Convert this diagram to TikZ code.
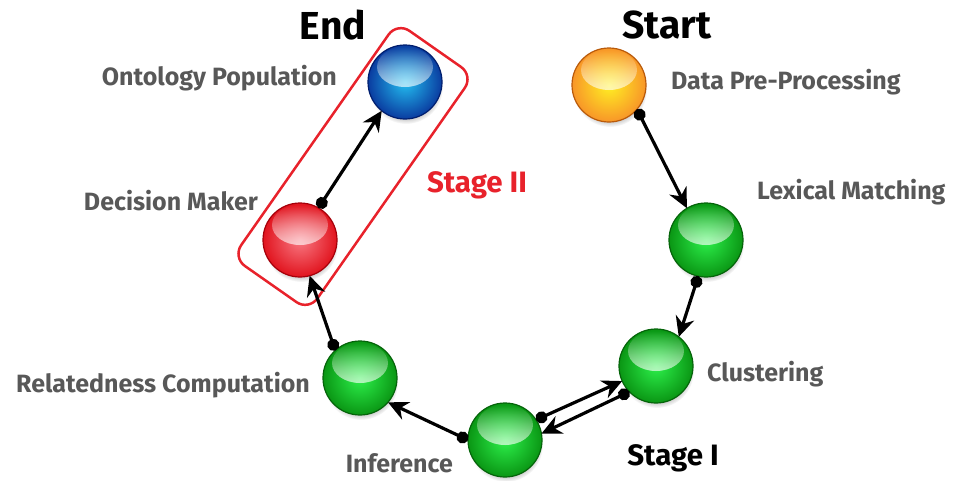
\documentclass[tikz,border=0pt]{standalone}
\usepackage{fontspec}
\setmainfont{Fira Sans}
\usetikzlibrary{arrows.meta,shadows,fadings}

\definecolor{txtgrey}{RGB}{88,88,88}
\definecolor{stagered}{RGB}{232,34,43}
\definecolor{greenin}{RGB}{45,240,75}
\definecolor{greenout}{RGB}{10,150,20}
\definecolor{greenline}{RGB}{5,100,10}
\definecolor{orangein}{RGB}{255,240,35}
\definecolor{orangeout}{RGB}{248,150,40}
\definecolor{orangeline}{RGB}{185,90,10}
\definecolor{bluein}{RGB}{35,190,240}
\definecolor{blueout}{RGB}{10,60,160}
\definecolor{blueline}{RGB}{0,30,110}
\definecolor{redin}{RGB}{248,120,130}
\definecolor{redout}{RGB}{225,20,30}
\definecolor{redline}{RGB}{165,0,10}

\tikzset{
  ball/.style={circle, minimum size=74pt, inner sep=0pt, outer sep=0pt, line width=1.2pt,
    circular drop shadow={shadow xshift=1pt, shadow yshift=-5pt, shadow scale=1.0, opacity=.4}},
  greenball/.style={ball, draw=greenline, inner color=greenin, outer color=greenout},
  balltext/.style={font=\bfseries\fontsize{25}{28}\selectfont, text=txtgrey, inner sep=0pt},
  stagetext/.style={font=\bfseries\fontsize{29.5}{32}\selectfont, inner sep=0pt},
  endtext/.style={font=\bfseries\fontsize{39}{42}\selectfont, inner sep=0pt},
  link/.style={{Circle[length=12pt]}-{Stealth[length=20pt,width=19pt]}, line width=3.2pt},
}

\begin{document}
\begin{tikzpicture}[x=1pt, y=-1pt]
  \useasboundingbox (0,0) rectangle (956,480);

  % Stage II box
  \draw[stagered, line width=2.5pt, rounded corners=15pt, rotate around={55:(353,166.5)}]
    (353-143.5,166.5-46.5) rectangle (353+143.5,166.5+46.5);

  % Balls
  \node[ball, draw=orangeline, inner color=orangein, outer color=orangeout] (dpp) at (609,85) {};
  \node[greenball] (lex) at (706,240) {};
  \node[greenball] (clu) at (656,366) {};
  \node[greenball] (inf) at (505,440) {};
  \node[greenball] (rel) at (360,378) {};
  \node[ball, draw=redline, inner color=redin, outer color=redout] (dec) at (300,240) {};
  \node[ball, draw=blueline, inner color=bluein, outer color=blueout] (ont) at (405,82) {};

  % Gloss
  \foreach \n in {dpp,lex,clu,inf,rel,dec,ont}
    \fill[white, path fading=north, fill opacity=.65] ([yshift=15pt]\n.center) ellipse (28pt and 20pt);

  % Labels
  \node[balltext, anchor=base east] (tont) at (337,85) {Ontology Population};
  \node[balltext, anchor=base west] (tdpp) at (671,89) {Data Pre-Processing};
  \node[balltext, anchor=base east] (tdec) at (258,210) {Decision Maker};
  \node[balltext, anchor=base west] (tlex) at (757,199) {Lexical Matching};
  \node[balltext, anchor=base west] (tclu) at (707,381) {Clustering};
  \node[balltext, anchor=base east] (trel) at (310,392) {Relatedness Computation};
  \node[balltext, anchor=base east] (tinf) at (453,472) {Inference};
  \node[stagetext, stagered] (stwo) at (477,185) {Stage II};
  \node[stagetext] (sone) at (673,458) {Stage I};
  \node[endtext] (tend) at (333,25) {End};
  \node[endtext] (tstart) at (667,25) {Start};

  % Links
  \draw[link] (dpp.-41) -- (lex.121);
  \draw[link] (lex.-102) -- (clu.52);
  \draw[link] (clu.224) -- (inf.10);
  \draw[link] (inf.33) -- (clu.204);
  \draw[link] (inf.180) -- (rel.-41);
  \draw[link] (rel.132) -- (dec.-75);
  \draw[link] (dec.60) -- (ont.231);
\end{tikzpicture}
\end{document}
